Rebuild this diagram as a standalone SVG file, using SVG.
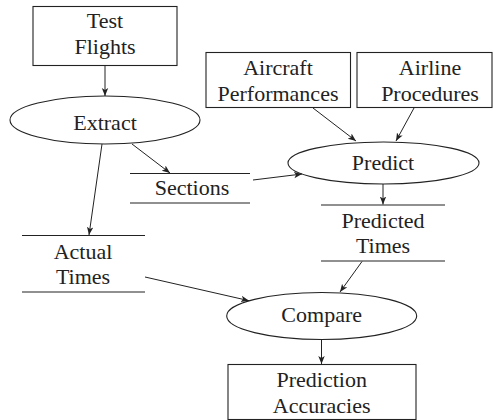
<svg xmlns="http://www.w3.org/2000/svg" width="493" height="420" viewBox="0 0 493 420">
<defs>
<marker id="ah" viewBox="0 0 10 10" refX="10" refY="5" markerWidth="8" markerHeight="8" markerUnits="userSpaceOnUse" orient="auto">
<path d="M0,1 L10,5 L0,9 L2.5,5 Z" fill="#222"/>
</marker>
</defs>
<style>
.s{fill:none;stroke:#222;stroke-width:1.1}
text{font-family:'Liberation Serif','DejaVu Serif','Noto Serif',Tinos,FreeSerif,'Times New Roman',Times,serif;font-size:22px;fill:#222;text-anchor:middle}
.c{fill:none;stroke:#222;stroke-width:1;marker-end:url(#ah)}
</style>
<rect width="493" height="420" fill="#fff"/>
<g id="test-flights"><rect class="s" x="33" y="6.5" width="144" height="59"/><text x="105" y="28">Test</text><text x="105" y="54">Flights</text></g>
<g id="extract"><ellipse class="s" cx="105" cy="120" rx="95" ry="24"/><text x="105" y="130">Extract</text></g>
<g id="sections"><line class="s" x1="130" y1="173.5" x2="250" y2="173.5"/><line class="s" x1="130" y1="203" x2="250" y2="203"/><text x="192" y="195">Sections</text></g>
<g id="aircraft-performances"><rect class="s" x="206" y="52.5" width="144.5" height="55"/><text x="278" y="75">Aircraft</text><text x="278" y="101">Performances</text></g>
<g id="airline-procedures"><rect class="s" x="357" y="52.5" width="135" height="55"/><text x="430" y="75">Airline</text><text x="430" y="101">Procedures</text></g>
<g id="predict"><ellipse class="s" cx="383.5" cy="163" rx="95.5" ry="21"/><text x="383" y="170">Predict</text></g>
<g id="predicted-times"><line class="s" x1="321" y1="205" x2="445" y2="205"/><line class="s" x1="321" y1="261" x2="445" y2="261"/><text x="383" y="228">Predicted</text><text x="383" y="253">Times</text></g>
<g id="actual-times"><line class="s" x1="22" y1="235.5" x2="145" y2="235.5"/><line class="s" x1="22" y1="292" x2="145" y2="292"/><text x="83" y="259">Actual</text><text x="83" y="284">Times</text></g>
<g id="compare"><ellipse class="s" cx="321.7" cy="316" rx="95" ry="23.5"/><text x="321.7" y="322">Compare</text></g>
<g id="prediction-accuracies"><rect class="s" x="228" y="364.5" width="188" height="55"/><text x="321.7" y="387">Prediction</text><text x="321.7" y="413">Accuracies</text></g>
<g id="connectors">
<line class="c" x1="105" y1="66" x2="105" y2="96"/>
<line class="c" x1="132" y1="144" x2="170" y2="173"/>
<line class="c" x1="102" y1="144" x2="89" y2="235"/>
<line class="c" x1="313" y1="108" x2="356" y2="141"/>
<line class="c" x1="414" y1="108" x2="396" y2="141"/>
<line class="c" x1="253" y1="180" x2="302" y2="174"/>
<line class="c" x1="383" y1="184" x2="383" y2="204.5"/>
<line class="c" x1="145" y1="277" x2="249" y2="300.7"/>
<line class="c" x1="362" y1="261.5" x2="340" y2="292"/>
<line class="c" x1="321.5" y1="339.5" x2="321.5" y2="364"/>
</g>
</svg>
